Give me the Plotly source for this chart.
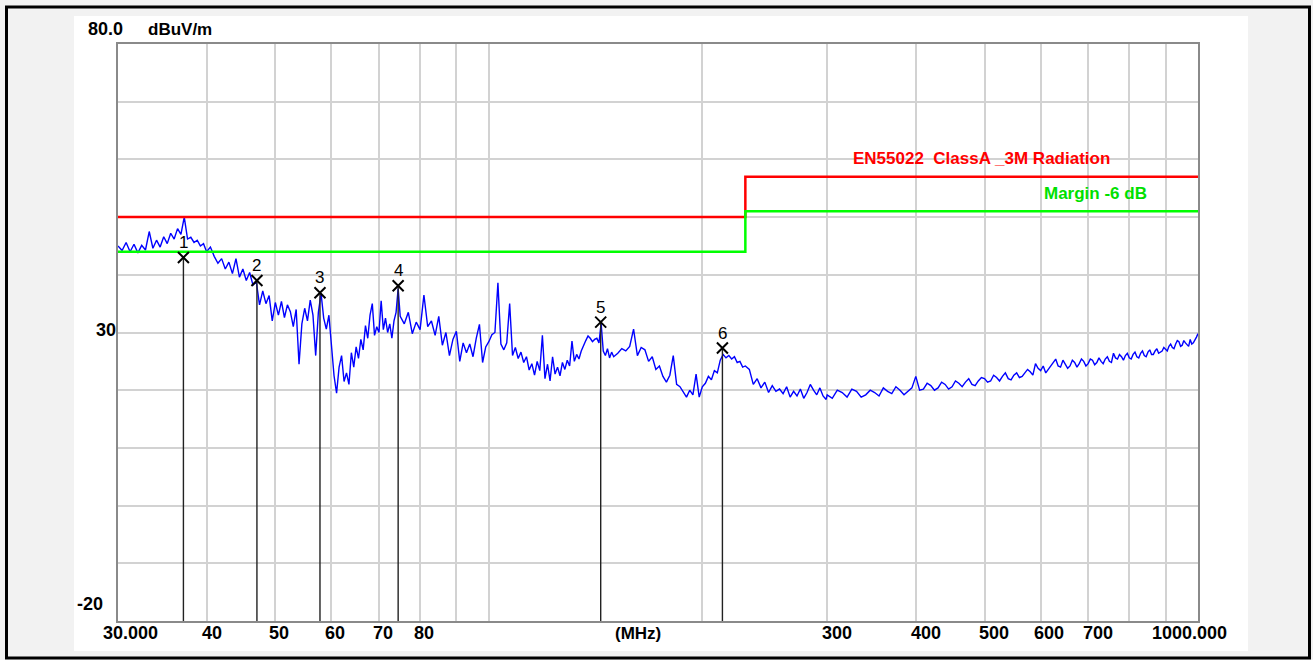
import math
import plotly.graph_objects as go

# ---------------- data ----------------
f1 = [30.0, 30.4, 30.8, 31.2, 31.6, 32.0, 32.4, 32.8, 33.2, 33.6, 34.0, 34.4, 34.8,
      35.2, 35.6, 36.0, 36.4, 36.8, 37.2, 37.6, 38.0, 38.4, 38.8, 39.2, 39.6]
l1 = [45.0, 44.2, 45.6, 44.0, 45.3, 43.8, 45.1, 44.3, 47.5, 44.6, 46.0, 44.8, 46.6,
      45.4, 47.2, 46.2, 48.0, 47.0, 50.0, 46.2, 46.5, 45.6, 46.0, 45.0, 45.4]

f2 = [40.0, 40.5, 41.0, 41.5, 42.0, 42.5, 43.0, 43.5, 44.0, 44.5, 45.0, 45.5, 46.0,
      46.5, 47.0, 47.5, 48.0, 48.5, 49.0, 49.5, 50.0]
l2 = [44.0, 44.8, 43.2, 42.0, 42.8, 41.0, 42.2, 40.2, 42.8, 39.6, 41.0, 39.0, 40.4,
      38.2, 38.8, 34.8, 37.2, 35.0, 36.4, 32.0, 35.2]

f3 = [50.5, 51.0, 51.5, 52.0, 52.5, 53.0, 53.5, 54.0, 54.5, 55.0, 55.5, 56.0, 56.5,
      57.0, 57.5, 58.0, 58.5, 59.0, 59.5, 60.0]
l3 = [33.0, 35.4, 32.6, 34.8, 33.6, 31.0, 34.0, 24.5, 31.5, 34.2, 32.0, 35.6, 33.0,
      26.0, 33.5, 36.8, 32.5, 30.6, 33.0, 27.0]

f4 = [60.5, 61.0, 61.5, 62.0, 62.5, 63.0, 63.5, 64.0, 64.5, 65.0, 65.5, 66.0, 66.5,
      67.0, 67.5, 68.0, 68.5, 69.0, 69.5, 70.0, 70.5, 71.0, 71.5, 72.0, 72.5, 73.0,
      73.5, 74.0, 74.5, 75.0]
l4 = [22.5, 19.5, 24.0, 26.0, 21.5, 23.0, 21.0, 26.5, 24.0, 27.5, 25.5, 28.8, 27.0,
      31.2, 29.0, 33.0, 35.0, 29.5, 31.0, 30.0, 35.5, 30.5, 32.5, 30.0, 31.5, 29.0,
      32.0, 33.5, 37.6, 32.8]

f5 = [76, 77, 78, 79, 80, 81, 82, 83, 84, 85, 86, 87, 88, 89, 90, 91, 92, 93, 94, 95,
      96, 97, 98, 99, 100]
l5 = [31.5, 33.5, 29.8, 31.8, 30.5, 36.5, 31.0, 32.0, 29.5, 32.8, 27.8, 30.0, 26.0,
      28.8, 30.2, 25.0, 28.2, 26.5, 28.0, 25.8, 29.0, 31.4, 24.8, 27.5, 28.4]

f6 = [101, 102, 103, 104, 105, 106, 107, 108, 109, 110,
      111, 112, 113, 114, 115, 116, 117, 118, 119, 120,
      121, 122, 123, 124, 125, 126, 127, 128, 129, 130,
      131, 132, 133, 134, 135, 136, 137, 138, 139, 140,
      141, 142, 143, 144, 145, 146, 147, 148, 149, 150]
l6 = [29.6, 30.0, 38.6, 28.0, 27.0, 28.2, 35.0, 26.0, 27.4, 25.5,
      26.6, 24.8, 25.8, 23.5, 24.6, 22.6, 25.0, 23.4, 29.5, 22.0,
      24.5, 21.6, 25.8, 22.8, 24.0, 22.5, 24.8, 23.6, 25.2, 24.2,
      28.5, 25.0, 26.2, 25.4, 26.8, 27.8, 28.6, 29.4, 29.0, 28.4,
      28.8, 29.0, 28.2, 31.6, 26.8, 26.0, 27.2, 25.6, 26.6, 25.8]

f7 = [152, 154, 156, 158, 160, 162, 164, 166, 168, 170,
      172, 174, 176, 178, 180, 182, 184, 186, 188, 190,
      192, 194, 196, 198, 200, 202, 204, 206, 208, 210,
      212, 214, 216, 218, 220, 222, 224, 226, 228, 230]
l7 = [26.4, 27.2, 26.8, 27.6, 30.6, 26.0, 27.4, 27.0, 25.0, 25.8,
      23.6, 24.2, 22.4, 21.4, 22.6, 26.0, 21.0, 20.6, 19.6, 18.8,
      20.0, 19.2, 22.8, 18.8, 20.6, 21.2, 22.4, 21.8, 23.4, 23.0,
      25.2, 26.2, 25.6, 26.0, 25.4, 25.8, 24.8, 25.0, 24.0, 24.2]

f8 = [233, 236, 239, 242, 245, 248, 251, 254, 257, 260, 263, 266, 269, 272, 275, 278,
      281, 284, 287, 290, 293, 296, 299]
l8 = [23.6, 21.0, 22.0, 20.4, 21.4, 19.6, 20.8, 19.8, 20.2, 19.4, 20.6, 18.8, 19.8,
      19.0, 20.2, 18.6, 19.6, 21.0, 20.0, 19.2, 20.4, 19.0, 18.4]

f9 = [300, 310, 320, 330, 340, 350, 360, 370, 380, 390,
      400, 410, 420, 430, 440, 450, 460, 470, 480, 490,
      500, 510, 520, 530, 540, 550, 560, 570, 580, 590,
      600, 610, 620, 630, 640, 650, 660, 670, 680, 690,
      700, 710, 720, 730, 740, 750, 760, 770, 780, 790,
      800, 810, 820, 830, 840, 850, 860, 870, 880, 890,
      900, 910, 920, 930, 940, 950, 960, 970, 980, 990, 1000]
l9 = [19.2, 20.0, 18.8, 19.8, 19.2, 19.6, 20.4, 19.4, 20.0, 19.8,
      22.4, 20.2, 20.8, 20.4, 21.0, 20.6, 21.2, 21.4, 21.0, 21.6,
      22.0, 21.6, 22.2, 22.4, 22.0, 22.6, 22.2, 23.0, 23.2, 24.6,
      23.4, 23.0, 24.2, 25.4, 24.0, 24.6, 24.2, 24.8, 24.6, 25.0,
      24.6, 25.2, 24.8, 25.0, 25.4, 25.0, 26.4, 25.4, 25.8, 26.0,
      25.6, 26.2, 25.8, 26.4, 26.0, 26.6, 26.2, 26.8, 26.4, 26.8,
      27.0, 27.6, 27.4, 28.0, 28.4, 27.8, 28.2, 27.6, 28.0, 28.6, 29.8]

f10 = [305, 315, 325, 335, 345, 355, 365, 375, 385, 395,
       405, 415, 425, 435, 445, 455, 465, 475, 485, 495,
       505, 515, 525, 535, 545, 555, 565, 575, 585, 595,
       605, 615, 625, 635, 645, 655, 665, 675, 685, 695,
       705, 715, 725, 735, 745, 755, 765, 775, 785, 795,
       805, 815, 825, 835, 845, 855, 865, 875, 885, 895,
       905, 915, 925, 935, 945, 955, 965, 975, 985, 995]
l10 = [18.6, 19.6, 20.2, 18.8, 20.0, 19.0, 19.8, 20.6, 19.2, 20.4,
       20.0, 21.2, 20.0, 21.4, 20.2, 21.6, 20.6, 22.0, 20.8, 22.2,
       21.4, 22.6, 21.6, 23.0, 21.8, 23.0, 22.4, 23.6, 22.6, 23.8,
       24.2, 23.6, 24.8, 24.2, 25.2, 23.8, 25.2, 24.0, 25.4, 24.2,
       25.4, 24.4, 25.6, 24.6, 25.8, 24.8, 25.6, 26.2, 25.2, 26.4,
       25.4, 26.6, 25.6, 26.8, 25.8, 27.0, 26.2, 27.2, 26.6, 27.4,
       26.8, 28.0, 27.2, 28.6, 27.6, 28.6, 27.8, 28.8, 28.2, 29.2]

limit_freq = [30, 230, 230, 1000]
limit_level = [50, 50, 57, 57]
margin_level = [44, 44, 51, 51]

marker_freq = [37.1, 47.1, 57.8, 74.5, 143.8, 213.5]
marker_level = [43.0, 39.0, 36.9, 38.1, 31.8, 27.3]
marker_names = ["1", "2", "3", "4", "5", "6"]

x_grid = [40, 50, 60, 70, 80, 90, 100, 200, 300, 400, 500, 600, 700, 800, 900]
y_grid = [-10, 0, 10, 20, 30, 40, 50, 60, 70]
x_tick_vals = [30, 40, 50, 60, 70, 80, 300, 400, 500, 600, 700, 1000]
x_tick_text = ["30.000", "40", "50", "60", "70", "80", "300", "400", "500", "600", "700", "1000.000"]
x_tick_shift = [12, 5, 4, 4, 4, 4, 10, 10, 9, 8, 10, -9]

pairs = sorted(zip(f1 + f2 + f3 + f4 + f5 + f6 + f7 + f8 + f9 + f10,
                   l1 + l2 + l3 + l4 + l5 + l6 + l7 + l8 + l9 + l10))
freq = [p[0] for p in pairs]
level = [p[1] for p in pairs]

# ---------------- figure ----------------
W, H = 1313, 660
ML, MR, MT, MB = 118, 115, 44, 39
PW, PH = W - ML - MR, H - MT - MB


def px(x):
    return (x - ML) / PW


def py(y):
    return (H - MB - y) / PH


FONT = "Liberation Sans, Arial, sans-serif"

fig = go.Figure()
fig.add_trace(go.Scatter(x=freq, y=level, mode="lines",
                         line=dict(color="#0000ff", width=1.4), hoverinfo="skip"))
fig.add_trace(go.Scatter(x=limit_freq, y=limit_level, mode="lines",
                         line=dict(color="#ff0000", width=2.5), hoverinfo="skip"))
fig.add_trace(go.Scatter(x=limit_freq, y=margin_level, mode="lines",
                         line=dict(color="#00ff00", width=2.5), hoverinfo="skip"))

mx, my = [], []
for f, l in zip(marker_freq, marker_level):
    mx += [f, f, None]
    my += [-20, l, None]
fig.add_trace(go.Scatter(x=mx, y=my, mode="lines",
                         line=dict(color="#222222", width=1.4), hoverinfo="skip"))
fig.add_trace(go.Scatter(x=marker_freq, y=marker_level, mode="markers",
                         marker=dict(symbol="x-thin", size=11, color="black",
                                     line=dict(color="black", width=2)),
                         hoverinfo="skip"))


def label(x, y, text, size, color="black", xref="paper", yref="paper", xshift=0, yshift=0):
    return dict(x=x, y=y, xref=xref, yref=yref, text=text, showarrow=False,
                xanchor="center", yanchor="middle", xshift=xshift, yshift=yshift,
                font=dict(family=FONT, size=size, color=color))


ann = []
for f, l, n in zip(marker_freq, marker_level, marker_names):
    ann.append(label(math.log10(f), l, n, 17, xref="x", yref="y", yshift=15))
for v, t, s in zip(x_tick_vals, x_tick_text, x_tick_shift):
    ann.append(label(math.log10(v), py(633), "<b>%s</b>" % t, 18, xref="x", xshift=s))
ann.append(label(px(638), py(633), "<b>(MHz)</b>", 17))
ann.append(label(px(105), py(29), "<b>80.0</b>", 18))
ann.append(label(px(180), py(29), "<b>dBuV/m</b>", 17))
ann.append(label(px(106), py(330), "<b>30</b>", 18))
ann.append(label(px(90), py(604), "<b>-20</b>", 18))
ann.append(label(px(981), py(158), "<b>EN55022\u00a0 ClassA _3M Radiation</b>", 17, color="#ff0000"))
ann.append(label(px(1095), py(193), "<b>Margin -6 dB</b>", 17, color="#00e000"))

shapes = [
    dict(type="rect", xref="paper", yref="paper", x0=px(74), x1=px(1248),
         y0=py(651), y1=py(16), fillcolor="white", line=dict(width=0), layer="below"),
    dict(type="rect", xref="paper", yref="paper", x0=px(6.5), x1=px(1309.5),
         y0=py(658), y1=py(7), fillcolor="rgba(0,0,0,0)",
         line=dict(color="black", width=3), layer="above"),
]

fig.update_layout(
    width=W, height=H,
    margin=dict(l=ML, r=MR, t=MT, b=MB, pad=0),
    paper_bgcolor="#f2f2f2", plot_bgcolor="white",
    showlegend=False,
    annotations=ann, shapes=shapes,
    xaxis=dict(type="log", range=[math.log10(30), math.log10(1000)],
               tickvals=x_grid, showticklabels=False, ticks="",
               showgrid=True, gridcolor="#d2d2d2", gridwidth=1.5,
               showline=True, mirror=True, linecolor="#8a8a8a", linewidth=2,
               zeroline=False, fixedrange=True),
    yaxis=dict(range=[-20, 80], tickvals=y_grid, showticklabels=False, ticks="",
               showgrid=True, gridcolor="#d2d2d2", gridwidth=1.5,
               showline=True, mirror=True, linecolor="#8a8a8a", linewidth=2,
               zeroline=False, fixedrange=True),
)

fig.write_html("out.html")
